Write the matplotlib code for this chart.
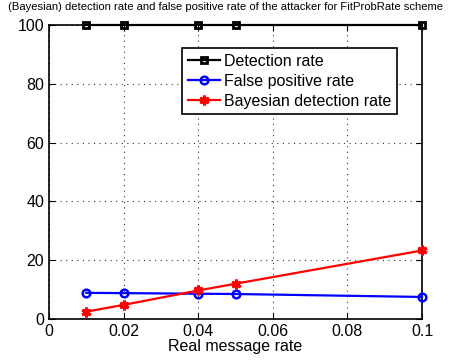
import matplotlib
matplotlib.use('Agg')
import matplotlib.pyplot as plt

plt.rcParams['font.family'] = ['Liberation Sans', 'DejaVu Sans']

# message rates and the three rates (%)
rates = [0.01, 0.02, 0.04, 0.05, 0.1]
detection = [100, 100, 100, 100, 100]
false_pos = [8.9, 8.8, 8.6, 8.5, 7.5]
bayes_det = [2.5, 4.8, 9.7, 12.0, 23.3]

fig = plt.figure(figsize=(4.5, 3.62), dpi=100)
ax = fig.add_axes([49 / 450, 1 - 319 / 362, (422 - 49) / 450, (319 - 25) / 362])

ax.plot(rates, detection, color='black', marker='s', markersize=4.5, markerfacecolor='none',
        markeredgewidth=2, linewidth=1.6, label='Detection rate', clip_on=False, zorder=5)
ax.plot(rates, false_pos, color='blue', marker='o', markersize=5.5, markerfacecolor='none',
        markeredgewidth=1.8, linewidth=1.6, label='False positive rate', clip_on=False, zorder=5)
ax.plot(rates, bayes_det, color='red', marker=(6, 2, 0), markersize=7,
        markeredgewidth=2.2, linewidth=1.6, label='Bayesian detection rate', clip_on=False, zorder=5)

ax.set_xlim(0, 0.1)
ax.set_ylim(0, 100)
ax.set_xticks([0, 0.02, 0.04, 0.06, 0.08, 0.1])
ax.set_xticklabels(['0', '0.02', '0.04', '0.06', '0.08', '0.1'])
ax.set_yticks([0, 20, 40, 60, 80, 100])
ax.tick_params(direction='in', labelsize=11.5, length=4, top=True, right=True)
ax.grid(True, linestyle=(0, (1, 4)), color='#333333', linewidth=0.8)
for s in ax.spines.values():
    s.set_linewidth(1.2)

ax.set_xlabel('Real message rate', fontsize=11.5, labelpad=0)
# title in the original runs past the right edge; keep it centred on the figure so it fits
fig.text(0.5, 1 - 7 / 362, '(Bayesian) detection rate and false positive rate of the attacker for FitProbRate scheme',
         fontsize=8.1, ha='center', va='center')

leg = ax.legend(loc='upper left', bbox_to_anchor=((182 - 49) / 373, (319 - 48) / 294), fontsize=11.5,
                fancybox=False, framealpha=1, edgecolor='black', handlelength=2.0, borderpad=0.35,
                labelspacing=0.32, handletextpad=0.3, borderaxespad=0)
leg.get_frame().set_linewidth(1.2)

fig.savefig('out.png', dpi=100)
